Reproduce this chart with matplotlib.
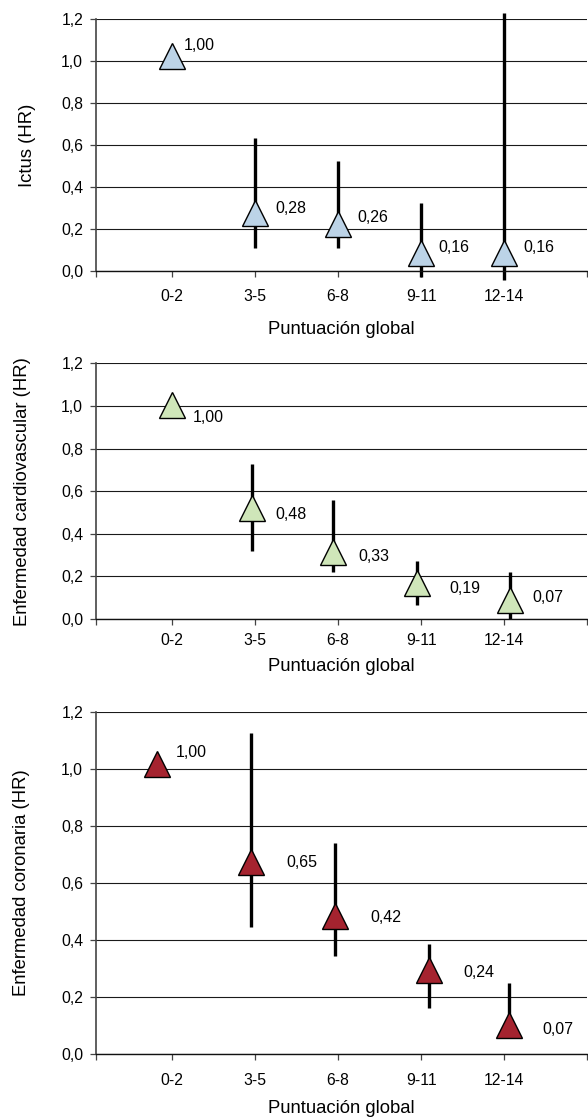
import matplotlib
matplotlib.use('Agg')
import matplotlib.pyplot as plt
import numpy as np

plt.rcParams['font.family'] = ['Liberation Sans', 'DejaVu Sans']

categories = ['0-2', '3-5', '6-8', '9-11', '12-14']

# Ictus
x_ictus = [1, 2, 3, 4, 5]
hr_ictus = [1.026, 0.276, 0.224, 0.086, 0.086]
lo_ictus = [np.nan, 0.11, 0.11, -0.03, -0.043]
hi_ictus = [np.nan, 0.633, 0.525, 0.325, 1.23]
lbl_ictus = ['1,00', '0,28', '0,26', '0,16', '0,16']

# Enfermedad cardiovascular
x_cv = [1, 1.963, 2.937, 3.945, 5.076]
hr_cv = [1.006, 0.519, 0.316, 0.171, 0.087]
lo_cv = [np.nan, 0.321, 0.222, 0.066, 0.0]
hi_cv = [np.nan, 0.728, 0.559, 0.274, 0.222]
lbl_cv = ['1,00', '0,48', '0,33', '0,19', '0,07']

# Enfermedad coronaria
x_cor = [0.822, 1.955, 2.966, 4.09, 5.064]
hr_cor = [1.018, 0.673, 0.484, 0.293, 0.10]
lo_cor = [np.nan, 0.444, 0.344, 0.162, 0.08]
hi_cor = [np.nan, 1.124, 0.741, 0.385, 0.25]
lbl_cor = ['1,00', '0,65', '0,42', '0,24', '0,07']

yticks = [0.0, 0.2, 0.4, 0.6, 0.8, 1.0, 1.2]
ytick_labels = ['0,0', '0,2', '0,4', '0,6', '0,8', '1,0', '1,2']

fig = plt.figure(figsize=(5.88, 11.17), dpi=100)
W, H = 588, 1117

# (top px, bottom px, colour, ylabel, label offsets px, ylabel x, xlabel y, tick pad)
panels = [
    (19, 271, '#bcd3e7', 'Ictus (HR)',
     [(12, 10), (20, 5), (19, 6), (17, 5), (19, 5)], -0.14, -0.198, 8.5,
     x_ictus, hr_ictus, lo_ictus, hi_ictus, lbl_ictus),
    (363.3, 619, '#cfe6b9', 'Enfermedad cardiovascular (HR)',
     [(21, -13), (23, -6.5), (25, -5), (33, -5.5), (22, 2.5)], -0.149, -0.153, 6.0,
     x_cv, hr_cv, lo_cv, hi_cv, lbl_cv),
    (711.7, 1054, '#a5232f', 'Enfermedad coronaria (HR)',
     [(18, 11), (35, 0), (35, -2), (35, -2.4), (33, -4)], -0.151, -0.134, 9.2,
     x_cor, hr_cor, lo_cor, hi_cor, lbl_cor),
]

x_left = 1 - 76 / 82.75

for (top, bot, col, ylab, offs, ylx, xly, tpad, xs, hr, lo, hi, lbls) in panels:
    ax = fig.add_axes([96 / W, 1 - bot / H, 491 / W, (bot - top) / H])
    ax.set_xlim(x_left, 6)
    ax.set_ylim(0, 1.2)
    ax.set_yticks(yticks)
    ax.set_yticklabels(ytick_labels, fontsize=11.3)
    ax.set_xticks([x_left, 1, 2, 3, 4, 5, 6])
    ax.set_xticklabels([''] + categories + [''], fontsize=11.3)
    ax.tick_params(axis='y', direction='out', length=4.3, width=0.9, color='#444444', pad=5)
    ax.tick_params(axis='x', direction='out', length=4.3, width=0.9, color='#444444', pad=tpad)
    for s in ['top', 'right']:
        ax.spines[s].set_visible(False)
    ax.spines['left'].set_color('#444444')
    ax.spines['left'].set_linewidth(1.2)
    ax.spines['bottom'].set_color('#111111')
    ax.spines['bottom'].set_linewidth(1.0)
    ax.yaxis.grid(True, color='#1a1a1a', linewidth=0.8)
    ax.set_axisbelow(True)

    ax.vlines(xs, lo, hi, colors='black', linewidth=2.4, zorder=2, clip_on=False)
    ax.plot(xs, hr, linestyle='none', marker='^', markersize=18.5,
            markerfacecolor=col, markeredgecolor='black', markeredgewidth=1.0,
            zorder=3, clip_on=False)
    for xv, yv, t, (dx, dy) in zip(xs, hr, lbls, offs):
        ax.annotate(t, (xv, yv), xytext=(dx, dy), textcoords='offset pixels',
                    ha='left', va='center', fontsize=11.5)

    ax.set_ylabel(ylab, fontsize=13.3, va='center')
    ax.yaxis.set_label_coords(ylx, 0.5)
    ax.set_xlabel('Puntuación global', fontsize=13.3)
    ax.xaxis.set_label_coords(0.5, xly)

fig.savefig('out.png', dpi=100)
